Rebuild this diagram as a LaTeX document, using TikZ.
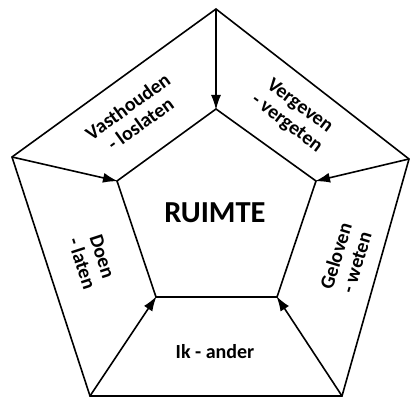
\documentclass[tikz,border=0pt]{standalone}
\usepackage{fontspec}
\setmainfont{Carlito}
\usetikzlibrary{arrows.meta}
\begin{document}
\begin{tikzpicture}[x=1pt,y=1pt,
  edge/.style={line width=1.6pt},
  arr/.style={line width=1.6pt,-{Latex[length=15pt,width=10pt]},shorten >=-1pt},
  lbl/.style={font=\bfseries\fontsize{20}{21.5}\selectfont,align=center,inner sep=0pt},
  big/.style={font=\bfseries\fontsize{30.5}{32}\selectfont,inner sep=0pt}]
\useasboundingbox (0,0) rectangle (412,399);
% outer vertices
\coordinate (A) at (216,390);
\coordinate (B) at (409,240);
\coordinate (C) at (342,3);
\coordinate (D) at (90,3);
\coordinate (E) at (12,242);
% inner vertices
\coordinate (a) at (216,290);
\coordinate (b) at (316,218);
\coordinate (c) at (277,102);
\coordinate (d) at (156,102);
\coordinate (e) at (117,218);
\draw[edge] (A) -- (B) -- (C) -- (D) -- (E) -- cycle;
\draw[edge] (a) -- (b) -- (c) -- (d) -- (e) -- cycle;
\draw[arr] (A) -- (a);
\draw[arr] (B) -- (b);
\draw[arr] (C) -- (c);
\draw[arr] (D) -- (d);
\draw[arr] (E) -- (e);
\node[big] (ruimte) at (215,186) {RUIMTE};
\node[lbl] (ik) at (215,47) {Ik - ander};
\node[lbl,rotate=36] (vast) at (134,284) {Vasthouden\\- loslaten};
\node[lbl,rotate=-37] (verg) at (293,284) {Vergeven\\- vergeten};
\node[lbl,rotate=-72] (doen) at (92,139) {Doen\\- laten};
\node[lbl,rotate=73] (gel) at (346,140) {Geloven\\- weten};
\end{tikzpicture}
\end{document}
